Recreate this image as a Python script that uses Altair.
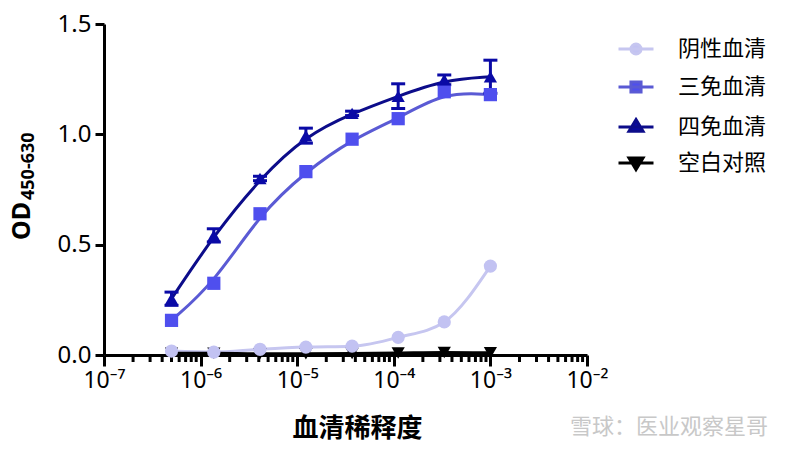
import altair as alt
import pandas as pd

# ---------------- data ----------------
series = ["阴性血清", "三免血清", "四免血清", "空白对照"]
dilution = [5.0e-7, 1.37e-6, 4.12e-6, 1.23e-5, 3.70e-5, 1.11e-4, 3.33e-4, 1.0e-3]
od_negative = [0.018, 0.013, 0.026, 0.036, 0.040, 0.080, 0.150, 0.403]
od_immune3 = [0.157, 0.325, 0.640, 0.831, 0.978, 1.071, 1.193, 1.180]
od_immune4 = [0.255, 0.542, 0.800, 0.994, 1.095, 1.173, 1.247, 1.261]
sd_immune4 = [0.030, 0.030, 0.010, 0.034, 0.010, 0.056, 0.022, 0.075]
od_blank = [0.008, 0.008, 0.006, 0.006, 0.007, 0.009, 0.011, 0.010]

x_tick_values = [1e-7, 1e-6, 1e-5, 1e-4, 1e-3, 1e-2]
x_minor_ticks = [m * 10.0 ** e for e in range(-7, -2) for m in range(2, 10)]
y_tick_values = [0.0, 0.5, 1.0, 1.5]

# ---------------- styles ----------------
marker_colors = ["#c2c2f2", "#4f4fee", "#0a0aa6", "#000000"]
line_colors = ["#c6c6f0", "#5a5ad4", "#0c0c8a", "#000000"]
line_interp = ["monotone", "basis", "basis", "monotone"]
marker_shapes = ["circle", "square", "triangle-up", "triangle-down"]
legend_symbols = [
    "M-2.5,0L2.5,0M0.72,0A0.72,0.72 0 1,1 -0.72,0A0.72,0.72 0 1,1 0.72,0Z",
    "M-2.5,0L2.5,0M-0.72,-0.72L0.72,-0.72L0.72,0.72L-0.72,0.72Z",
    "M-2.5,0L2.5,0M0,-1.05L1.0,0.6L-1.0,0.6Z",
    "M-2.5,0L2.5,0M-1.0,-0.7L1.0,-0.7L0,0.95Z",
]
navy = "#0a0aa6"
W, H = 483, 331
NUM_FONT = "Noto Sans"
CJK_FONT = "Noto Sans CJK SC"

rows = []
for name, vals in zip(series, [od_negative, od_immune3, od_immune4, od_blank]):
    for d, v in zip(dilution, vals):
        rows.append({"series": name, "dilution": d, "od": v})
df = pd.DataFrame(rows)
err_df = pd.DataFrame({
    "dilution": dilution,
    "lo": [m - s for m, s in zip(od_immune4, sd_immune4)],
    "hi": [m + s for m, s in zip(od_immune4, sd_immune4)],
})
minor_df = pd.DataFrame({"v": x_minor_ticks})

xscale = alt.Scale(type="log", domain=[1e-7, 1e-2], nice=False)
yscale = alt.Scale(domain=[0, 1.5], nice=False, zero=False)

label_expr = (
    "datum.value < 5e-7 ? '10⁻⁷' : datum.value < 5e-6 ? '10⁻⁶' : "
    "datum.value < 5e-5 ? '10⁻⁵' : datum.value < 5e-4 ? '10⁻⁴' : "
    "datum.value < 5e-3 ? '10⁻³' : '10⁻²'"
)

x_axis = alt.Axis(
    values=x_tick_values, labelExpr=label_expr, grid=False,
    domainColor="black", domainWidth=3, tickColor="black", tickWidth=3,
    tickSize=11, labelFont=NUM_FONT, labelFontSize=23, labelColor="black",
    labelPadding=3, labelFlush=False, labelOverlap=False,
    title="血清稀释度", titleFont=CJK_FONT, titleFontSize=26,
    titleFontWeight="bold", titleColor="black", titleX=253, titleY=73,
    titleBaseline="middle", titleAlign="center",
)
y_axis = alt.Axis(
    values=y_tick_values, format=".1f", grid=False,
    domainColor="black", domainWidth=3, tickColor="black", tickWidth=3,
    tickSize=9, labelFont=NUM_FONT, labelFontSize=24, labelColor="black",
    labelPadding=4, title=None, labelFlush=False,
)


def X(field):
    return alt.X(field, type="quantitative", scale=xscale, axis=x_axis)


def Y(field):
    return alt.Y(field, type="quantitative", scale=yscale, axis=y_axis)


def by_series(i):
    return alt.Chart(df).transform_filter(alt.datum.series == series[i])


line_layers = [
    by_series(i).mark_line(interpolate=line_interp[i], strokeWidth=3, color=line_colors[i]).encode(
        x=X("dilution"), y=Y("od")
    )
    for i in [0, 1, 2, 3]
]

err_rule = alt.Chart(err_df).mark_rule(color=navy, strokeWidth=3).encode(
    x=X("dilution"), y=Y("lo"), y2=alt.Y2("hi")
)
err_lo = alt.Chart(err_df).mark_tick(orient="horizontal", size=14, thickness=3, color=navy, opacity=1).encode(
    x=X("dilution"), y=Y("lo")
)
err_hi = alt.Chart(err_df).mark_tick(orient="horizontal", size=14, thickness=3, color=navy, opacity=1).encode(
    x=X("dilution"), y=Y("hi")
)

point_layers = [
    by_series(i).mark_point(
        filled=True, size=175, opacity=1, shape=marker_shapes[i], color=marker_colors[i]
    ).encode(x=X("dilution"), y=Y("od"))
    for i in [3, 0, 1, 2]
]

minor = alt.Chart(minor_df).mark_rule(color="black", strokeWidth=3).encode(
    x=X("v"), y=alt.value(H), y2=alt.value(H + 7)
)

legend_def = alt.Legend(
    title=None, orient="none", legendX=521, legendY=14, direction="vertical",
    labelFont=CJK_FONT, labelFontSize=22, labelColor="black", labelOffset=31,
    symbolSize=196, symbolStrokeWidth=3, rowPadding=14, padding=0,
)
legend_layer = alt.Chart(df).transform_filter("datum.od < -1").mark_point(
    size=196, strokeWidth=3, filled=False, opacity=1
).encode(
    x=X("dilution"),
    y=Y("od"),
    fill=alt.Fill("series:N", scale=alt.Scale(domain=series, range=marker_colors), legend=legend_def),
    stroke=alt.Stroke("series:N", scale=alt.Scale(domain=series, range=line_colors), legend=legend_def),
    shape=alt.Shape("series:N", scale=alt.Scale(domain=series, range=legend_symbols), legend=legend_def),
)

one = alt.Data(values=[{}])
od_title = alt.Chart(one).mark_text(
    text="OD", angle=270, align="left", baseline="alphabetic",
    font=NUM_FONT, fontSize=25, fontWeight="bold", color="black",
).encode(x=alt.value(-74), y=alt.value(216))
od_sub = alt.Chart(one).mark_text(
    text="450-630", angle=270, align="left", baseline="alphabetic",
    font=NUM_FONT, fontSize=18, fontWeight="bold", color="black",
).encode(x=alt.value(-70), y=alt.value(176))
watermark = alt.Chart(one).mark_text(
    text="雪球：医业观察星哥", align="left", baseline="middle",
    font=CJK_FONT, fontSize=22, color="#c8c8c8",
).encode(x=alt.value(466), y=alt.value(403))

chart = alt.layer(
    *line_layers, minor, err_rule, err_lo, err_hi, *point_layers, legend_layer,
    od_title, od_sub, watermark,
).properties(
    width=W, height=H,
    padding={"left": 96, "top": 16, "right": 205, "bottom": 92},
    autosize=alt.AutoSizeParams(type="none"),
).configure_view(stroke=None)

chart.save("out.html", embed_options={"renderer": "svg", "actions": False})
